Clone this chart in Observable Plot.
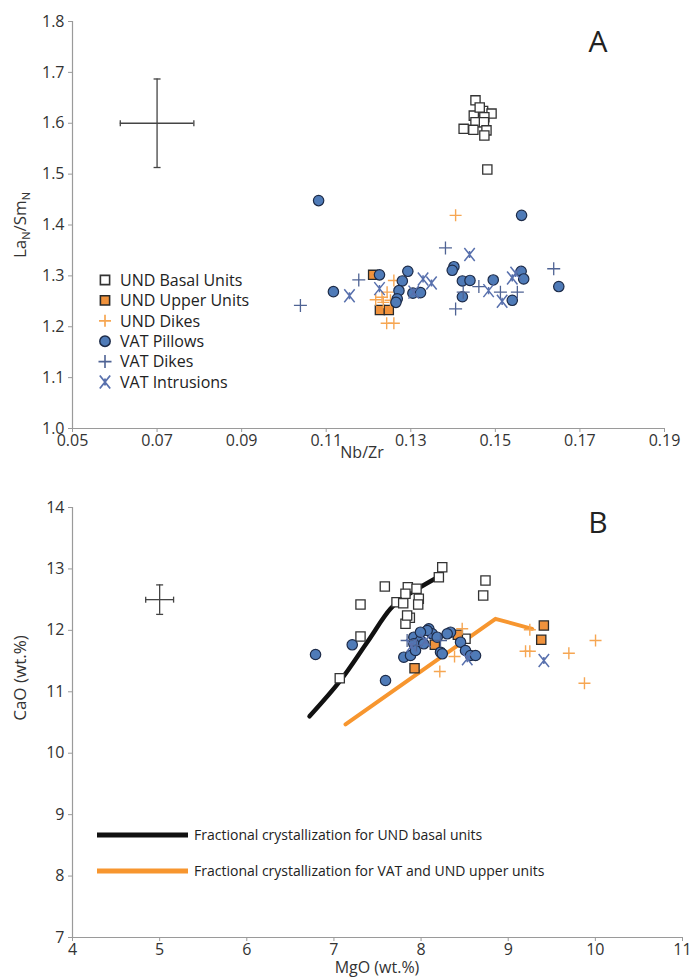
<!DOCTYPE html>
<html><head><meta charset="utf-8">
<script src="https://cdn.jsdelivr.net/npm/d3@7"></script>
<script src="https://cdn.jsdelivr.net/npm/@observablehq/plot@0.6"></script>
<style>
body{margin:0;background:#fff;}
#wrap{width:699px;}
#wrap svg{display:block;}
</style></head><body><div id="wrap"></div>
<script>
// ---------- Panel A data (Nb/Zr vs LaN/SmN) ----------
const xDomainA = [0.05, 0.19];
const yDomainA = [1.0, 1.8];
const xTicksA = [0.05, 0.07, 0.09, 0.11, 0.13, 0.15, 0.17, 0.19];
const yTicksA = [1.0, 1.1, 1.2, 1.3, 1.4, 1.5, 1.6, 1.7, 1.8];

const basalA_x = [0.1453,0.1471,0.1491,0.1449,0.1474,0.1453,0.1473,0.1425,0.1448,0.1479,0.1474,0.1481,0.1463];
const basalA_y = [1.645,1.624,1.619,1.615,1.612,1.602,1.602,1.589,1.587,1.586,1.576,1.509,1.631];
const upperA_x = [0.1211,0.1227,0.1248];
const upperA_y = [1.302,1.233,1.233];
const undDikesA_x = [0.1406,0.1244,0.1232,0.1217,0.1252,0.1260,0.1235,0.1243,0.1260];
const undDikesA_y = [1.419,1.268,1.258,1.253,1.252,1.291,1.248,1.207,1.207];
const pillowsA_x = [0.1402,0.1398,0.1561,0.1567,0.1650,0.1495,0.1422,0.1440,0.1422,0.1540,0.1293,0.1305,0.1323,0.1280,0.1272,0.1268,0.1265,0.1226,0.1117,0.1082,0.1562];
const pillowsA_y = [1.318,1.311,1.309,1.294,1.279,1.292,1.290,1.291,1.259,1.252,1.309,1.266,1.267,1.290,1.271,1.255,1.248,1.302,1.269,1.448,1.419];
const vatDikesA_x = [0.1382,0.1638,0.1461,0.1512,0.1552,0.1424,0.1406,0.1177,0.1039];
const vatDikesA_y = [1.355,1.314,1.279,1.268,1.268,1.268,1.235,1.292,1.242];
const intrusionsA_x = [0.1439,0.1540,0.1484,0.1516,0.1329,0.1349,0.1307,0.1226,0.1155,0.1548];
const intrusionsA_y = [1.342,1.296,1.271,1.250,1.294,1.286,1.268,1.275,1.261,1.305];
const errA_x = [0.07], errA_y = [1.6], errA_ex = [0.0087], errA_ey = [0.087];

// ---------- Panel B data (MgO vs CaO) ----------
const xDomainB = [4, 11];
const yDomainB = [7, 14];
const xTicksB = [4,5,6,7,8,9,10,11];
const yTicksB = [7,8,9,10,11,12,13,14];

const basalB_x = [8.243,8.204,7.584,7.848,7.948,7.821,7.718,7.795,7.974,7.967,7.305,7.871,7.821,7.305,7.067,8.739,8.713,7.840,8.510];
const basalB_y = [13.028,12.865,12.714,12.703,12.677,12.595,12.458,12.442,12.514,12.421,12.421,12.204,12.107,11.900,11.221,12.812,12.567,12.242,11.863];
const upperB_x = [9.409,9.379,7.925,8.158,8.422];
const upperB_y = [12.079,11.846,11.384,11.765,11.928];
const undDikesB_x = [10.002,9.696,9.199,9.248,9.875,9.248,8.215,8.384,8.472];
const undDikesB_y = [11.835,11.628,11.661,11.661,11.140,12.009,11.330,11.574,12.025];
const pillowsB_x = [6.789,7.210,7.592,8.089,8.128,7.917,7.993,7.917,7.802,7.879,8.223,8.338,8.453,8.510,8.567,8.625,8.070,7.993,8.185,8.300,8.031,7.936,8.243];
const pillowsB_y = [11.607,11.765,11.184,12.025,11.944,11.889,11.835,11.781,11.563,11.591,11.644,11.970,11.807,11.672,11.591,11.591,11.998,11.970,11.889,11.944,11.781,11.672,11.618];
const vatDikesB_x = [7.840,7.948,8.223];
const vatDikesB_y = [11.835,11.754,11.835];
const intrusionsB_x = [9.409,8.530,7.890,8.050];
const intrusionsB_y = [11.509,11.537,11.750,11.830];
const fcBasal_x = [6.72,7.075,7.382,7.649,7.802,8.185];
const fcBasal_y = [10.60,11.184,11.807,12.351,12.535,12.860];
const fcVat_x = [7.133,8.854,9.275];
const fcVat_y = [10.468,12.188,12.025];
const errB_x = [5.0], errB_y = [12.5], errB_ex = [0.16], errB_ey = [0.24];

// ---------- Text ----------
const legendLabelsA = ["UND Basal Units","UND Upper Units","UND Dikes","VAT Pillows","VAT Dikes","VAT Intrusions"];
const legendLabelsB = ["Fractional crystallization for UND basal units","Fractional crystallization for VAT and UND upper units"];
const xLabelA = "Nb/Zr", xLabelB = "MgO (wt.%)", yLabelB = "CaO (wt.%)";
const panelA = "A", panelB = "B";

// ---------- helpers ----------
const font = "'Open Sans', 'DejaVu Sans', sans-serif";
const rows = (xs, ys) => xs.map((x, i) => ({x, y: ys[i]}));
const errRows = (xs, ys, ex, ey) => xs.map((x, i) => ({x, y: ys[i], ex: ex[i], ey: ey[i]}));

const plusSym = {draw(ctx, size){const r=Math.sqrt(size/Math.PI); ctx.moveTo(-r,0);ctx.lineTo(r,0);ctx.moveTo(0,-r);ctx.lineTo(0,r);}};
const starSym = {draw(ctx, size){const r=Math.sqrt(size/Math.PI); const a=r*0.8; ctx.moveTo(-a,-r);ctx.lineTo(a,r);ctx.moveTo(-a,r);ctx.lineTo(a,-r);ctx.moveTo(0,-r*0.55);ctx.lineTo(0,r*0.55);}};
const hCap = {draw(ctx, size){const r=Math.sqrt(size/Math.PI); ctx.moveTo(-r,0);ctx.lineTo(r,0);}};
const vCap = {draw(ctx, size){const r=Math.sqrt(size/Math.PI); ctx.moveTo(0,-r);ctx.lineTo(0,r);}};

const styles = [
  {symbol: d3.symbolSquare, fill: "#ffffff", stroke: "#333333", r: 5.2, strokeWidth: 1.3},
  {symbol: d3.symbolSquare, fill: "#f0923c", stroke: "#2a2a2a", r: 5.2, strokeWidth: 1.3},
  {symbol: plusSym, fill: "none", stroke: "#f6a652", r: 6, strokeWidth: 1.4},
  {symbol: d3.symbolCircle, fill: "#4f7bb8", stroke: "#1d2b48", r: 5.2, strokeWidth: 1.2},
  {symbol: plusSym, fill: "none", stroke: "#4f6394", r: 6.5, strokeWidth: 1.3},
  {symbol: starSym, fill: "none", stroke: "#5870ad", r: 6.5, strokeWidth: 1.5}
];
const axisColor = "#9a9a9a", textColor = "#333";

function seriesMarks(list){
  return list.map((data, i) => Plot.dot(data, {x: "x", y: "y", ...styles[i]}));
}
function errMarks(data){
  const st = {stroke: "#444", strokeWidth: 1.3};
  return [
    Plot.ruleY(data, {y: "y", x1: d => d.x - d.ex, x2: d => d.x + d.ex, ...st}),
    Plot.ruleX(data, {x: "x", y1: d => d.y - d.ey, y2: d => d.y + d.ey, ...st}),
    Plot.dot(data, {x: d => d.x - d.ex, y: "y", symbol: vCap, r: 3, fill: "none", ...st}),
    Plot.dot(data, {x: d => d.x + d.ex, y: "y", symbol: vCap, r: 3, fill: "none", ...st}),
    Plot.dot(data, {x: "x", y: d => d.y - d.ey, symbol: hCap, r: 3.5, fill: "none", ...st}),
    Plot.dot(data, {x: "x", y: d => d.y + d.ey, symbol: hCap, r: 3.5, fill: "none", ...st})
  ];
}
function axes(xd, yd, xt, yt, xf, yf){
  return [
    Plot.ruleY([yd[0]], {stroke: axisColor, strokeWidth: 1.2}),
    Plot.ruleX([xd[0]], {stroke: axisColor, strokeWidth: 1.2}),
    Plot.axisX(xt, {tickSize: 4, tickPadding: 2, tickFormat: xf, label: null, stroke: axisColor, fill: textColor}),
    Plot.axisY(yt, {tickSize: 4, tickPadding: 4, tickFormat: yf, label: null, stroke: axisColor, fill: textColor})
  ];
}

// ---------- Panel A ----------
const plotA = Plot.plot({
  width: 699, height: 460,
  marginLeft: 72, marginRight: 35, marginTop: 21, marginBottom: 32,
  style: {fontFamily: font, fontSize: "16px", color: textColor, background: "#fff", overflow: "visible"},
  x: {domain: xDomainA},
  y: {domain: yDomainA},
  marks: [
    ...axes(xDomainA, yDomainA, xTicksA, yTicksA, d3.format(".2f"), d3.format(".1f")),
    ...errMarks(errRows(errA_x, errA_y, errA_ex, errA_ey)),
    ...seriesMarks([
      rows(basalA_x, basalA_y), rows(upperA_x, upperA_y), rows(undDikesA_x, undDikesA_y),
      rows(pillowsA_x, pillowsA_y), rows(vatDikesA_x, vatDikesA_y), rows(intrusionsA_x, intrusionsA_y)
    ])
  ]
});

// ---------- Panel B ----------
const plotB = Plot.plot({
  width: 699, height: 519,
  marginLeft: 72, marginRight: 17, marginTop: 47, marginBottom: 42,
  style: {fontFamily: font, fontSize: "16px", color: textColor, background: "#fff", overflow: "visible"},
  x: {domain: xDomainB},
  y: {domain: yDomainB},
  marks: [
    ...axes(xDomainB, yDomainB, xTicksB, yTicksB, d3.format("d"), d3.format("d")),
    ...errMarks(errRows(errB_x, errB_y, errB_ex, errB_ey)),
    Plot.line(rows(fcBasal_x, fcBasal_y), {x: "x", y: "y", stroke: "#111", strokeWidth: 4.5, strokeLinejoin: "round", curve: "catmull-rom"}),
    Plot.line(rows(fcVat_x, fcVat_y), {x: "x", y: "y", stroke: "#f7962f", strokeWidth: 4, strokeLinejoin: "round"}),
    ...seriesMarks([
      rows(basalB_x, basalB_y), rows(upperB_x, upperB_y), rows(undDikesB_x, undDikesB_y),
      rows(pillowsB_x, pillowsB_y), rows(vatDikesB_x, vatDikesB_y), rows(intrusionsB_x, intrusionsB_y)
    ])
  ]
});

const wrap = document.getElementById("wrap");
wrap.appendChild(plotA);
wrap.appendChild(plotB);

// ---------- annotations A ----------
const sA = d3.select(plotA);
sA.append("text").attr("x", 598).attr("y", 52).attr("text-anchor", "middle")
  .attr("font-size", 30).attr("fill", "#222").text(panelA);
sA.append("text").attr("x", 362).attr("y", 458).attr("text-anchor", "middle")
  .attr("font-size", 16).attr("fill", textColor).text(xLabelA);
const yl = sA.append("text").attr("transform", "translate(26,225) rotate(-90)")
  .attr("text-anchor", "middle").attr("font-size", 17).attr("fill", textColor);
yl.append("tspan").text("La");
yl.append("tspan").attr("font-size", 11).attr("dy", 4).text("N");
yl.append("tspan").attr("dy", -4).text("/Sm");
yl.append("tspan").attr("font-size", 11).attr("dy", 4).text("N");

const legA = sA.append("g");
legendLabelsA.forEach((lab, i) => {
  const yy = 280 + i * 20.4;
  const st = styles[i];
  legA.append("path")
    .attr("transform", `translate(105,${yy})`)
    .attr("d", d3.symbol(st.symbol, st.r * st.r * Math.PI)())
    .attr("fill", st.fill).attr("stroke", st.stroke).attr("stroke-width", st.strokeWidth + 0.3);
  legA.append("text").attr("x", 120).attr("y", yy).attr("dy", "0.36em")
    .attr("text-anchor", "start")
    .attr("font-size", 16).attr("fill", "#222").text(lab);
});

// ---------- annotations B ----------
const sB = d3.select(plotB);
sB.append("text").attr("x", 598).attr("y", 73).attr("text-anchor", "middle")
  .attr("font-size", 30).attr("fill", "#222").text(panelB);
sB.append("text").attr("x", 377).attr("y", 513).attr("text-anchor", "middle")
  .attr("font-size", 16).attr("fill", textColor).text(xLabelB);
sB.append("text").attr("transform", "translate(26,218) rotate(-90)")
  .attr("text-anchor", "middle").attr("font-size", 17).attr("fill", textColor).text(yLabelB);
const legB = sB.append("g");
const legColors = ["#111", "#f7962f"];
legendLabelsB.forEach((lab, i) => {
  const yy = 375 + i * 36;
  legB.append("line").attr("x1", 97).attr("x2", 188).attr("y1", yy).attr("y2", yy)
    .attr("stroke", legColors[i]).attr("stroke-width", 5);
  legB.append("text").attr("x", 194).attr("y", yy).attr("dy", "0.36em")
    .attr("text-anchor", "start")
    .attr("font-size", 14).attr("fill", "#222").text(lab);
});
</script>
</body></html>
